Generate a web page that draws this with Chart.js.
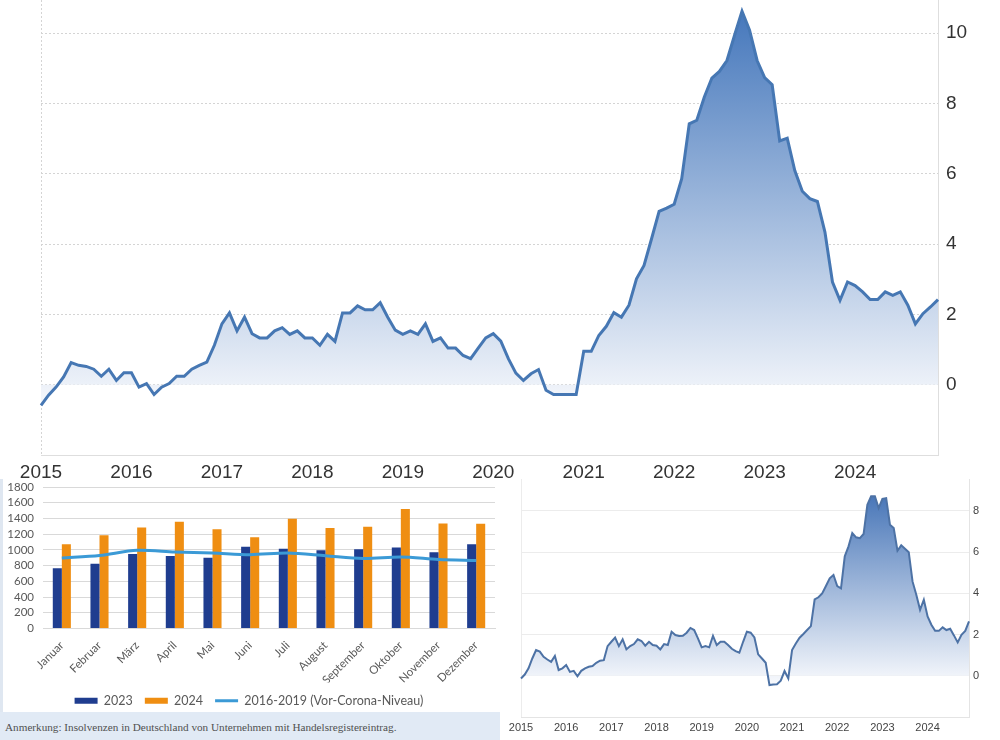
<!DOCTYPE html>
<html>

<head>
  <meta charset="utf-8">
  <title>Inflation und Insolvenzen</title>
  <style>
    body { margin: 0; background: #fff; }
    #wrap { position: relative; width: 1000px; height: 740px; overflow: hidden; }
    #oben { position: absolute; left: 0; top: 0; }
    #balken { position: absolute; left: 0; top: 479px; width: 497px; height: 233px; background: #fff; border-left: 3px solid #dfe7f1; overflow: hidden; }
    #klein { position: absolute; left: 503px; top: 479px; width: 497px; height: 261px; background: #fff; }
    #anmerkung { position: absolute; left: 0; top: 712px; width: 500px; height: 28px; background: #e1eaf5;
      font: 11.2px "Liberation Serif", serif; color: #505050; line-height: 30px; padding-left: 5px; box-sizing: border-box; }
  </style>
</head>

<body>
  <div id="wrap">
    <canvas id="oben" width="1000" height="480"></canvas>
    <div id="balken"><canvas id="cBalken" width="497" height="240"></canvas></div>
    <div id="klein"><canvas id="cKlein" width="497" height="261"></canvas></div>
    <div id="anmerkung">Anmerkung: Insolvenzen in Deutschland von Unternehmen mit Handelsregistereintrag.</div>
  </div>

  <script src="https://cdn.jsdelivr.net/npm/chart.js"></script>
  <script>
    // Jahre und Monate (Jan 2015 bis Dez 2024)
    const jahre = ['2015', '2016', '2017', '2018', '2019', '2020', '2021', '2022', '2023', '2024'];

    // grosses Diagramm oben, Monatswerte in %
    const werteOben = [
      -0.59, -0.30, -0.07, 0.22, 0.63, 0.55, 0.52, 0.44, 0.24, 0.44, 0.12, 0.34,
      0.34, -0.07, 0.03, -0.28, -0.07, 0.03, 0.24, 0.24, 0.44, 0.55, 0.64, 1.12,
      1.73, 2.04, 1.53, 1.92, 1.45, 1.33, 1.33, 1.53, 1.62, 1.43, 1.53, 1.33,
      1.33, 1.12, 1.43, 1.23, 2.04, 2.04, 2.24, 2.13, 2.13, 2.33, 1.92, 1.55,
      1.43, 1.53, 1.43, 1.73, 1.23, 1.33, 1.04, 1.04, 0.83, 0.74, 1.04, 1.33,
      1.45, 1.24, 0.74, 0.33, 0.12, 0.31, 0.43, -0.16, -0.28, -0.28, -0.28, -0.28,
      0.95, 0.95, 1.40, 1.66, 2.05, 1.92, 2.26, 3.01, 3.39, 4.15, 4.93, 5.02,
      5.13, 5.86, 7.42, 7.52, 8.18, 8.72, 8.91, 9.22, 9.93, 10.62, 10.08, 9.22,
      8.73, 8.53, 6.93, 7.01, 6.09, 5.50, 5.29, 5.21, 4.34, 2.92, 2.40, 2.92,
      2.82, 2.64, 2.42, 2.42, 2.64, 2.54, 2.64, 2.26, 1.73, 2.02, 2.21, 2.42
    ];

    // kleines Diagramm unten rechts
    const werteKlein = [
      -0.13, 0.06, 0.36, 0.84, 1.25, 1.17, 0.92, 0.79, 0.68, 0.96, 0.28, 0.36,
      0.52, 0.19, 0.24, -0.02, 0.24, 0.36, 0.44, 0.47, 0.63, 0.73, 0.76, 1.44,
      1.65, 1.85, 1.44, 1.77, 1.28, 1.44, 1.54, 1.77, 1.69, 1.46, 1.65, 1.49,
      1.46, 1.28, 1.54, 1.49, 2.14, 1.98, 1.93, 1.94, 2.09, 2.32, 2.22, 1.82,
      1.38, 1.44, 1.38, 1.94, 1.49, 1.65, 1.65, 1.49, 1.31, 1.20, 1.12, 1.65,
      2.14, 2.09, 1.86, 1.04, 0.84, 0.63, -0.45, -0.42, -0.41, -0.24, 0.23, -0.13,
      1.25, 1.57, 1.85, 2.03, 2.22, 2.41, 3.71, 3.81, 4.00, 4.36, 4.73, 4.89,
      4.35, 4.24, 5.80, 6.28, 6.93, 6.72, 6.68, 6.88, 8.30, 8.71, 8.71, 8.14,
      8.59, 8.62, 7.33, 7.17, 6.07, 6.33, 6.17, 6.00, 4.58, 3.93, 3.20, 3.69,
      2.88, 2.48, 2.18, 2.18, 2.35, 2.22, 2.28, 1.96, 1.62, 1.99, 2.18, 2.64
    ];

    // Insolvenzen pro Monat
    const monatsnamen = ['Januar', 'Februar', 'März', 'April', 'Mai', 'Juni', 'Juli', 'August', 'September', 'Oktober', 'November', 'Dezember'];
    const insolvenzen2023 = [767, 823, 947, 921, 900, 1041, 1016, 994, 1007, 1029, 969, 1071];
    const insolvenzen2024 = [1071, 1187, 1286, 1359, 1264, 1161, 1397, 1277, 1294, 1521, 1337, 1333];
    const vorCorona = [896, 930, 994, 973, 960, 939, 960, 926, 891, 909, 879, 866];

    const monate = [];
    jahre.forEach((j) => {
      for (let m = 1; m <= 12; m++) monate.push(j + '-' + m);
    });

    // vertikaler Farbverlauf unter der Linie
    function verlauf(wertOben, wertUnten, farbeOben, farbeUnten) {
      return (ctx) => {
        const chart = ctx.chart;
        if (!chart.chartArea) return farbeUnten;
        const y = chart.scales.y;
        const g = chart.ctx.createLinearGradient(0, y.getPixelForValue(wertOben), 0, y.getPixelForValue(wertUnten));
        g.addColorStop(0, farbeOben);
        g.addColorStop(1, farbeUnten);
        return g;
      };
    }

    const jahrLabel = (v, i) => (i % 12 === 0 ? monate[i].slice(0, 4) : null);

    // oberes Diagramm
    new Chart(document.getElementById('oben'), {
      type: 'line',
      data: {
        labels: monate,
        datasets: [{
          data: werteOben,
          borderColor: '#4677b3',
          borderWidth: 3,
          pointRadius: 0,
          tension: 0,
          fill: 'origin',
          backgroundColor: verlauf(10.6, -0.6, 'rgb(70,120,188)', 'rgb(246,248,252)')
        }]
      },
      options: {
        responsive: false,
        animation: false,
        layout: { padding: { left: 41, top: 0, right: 0, bottom: 0 } },
        plugins: { legend: { display: false }, tooltip: { enabled: false } },
        scales: {
          x: {
            grid: { color: (c) => (c.index % 12 === 0 ? '#d4d4d4' : 'transparent'), drawTicks: false },
            border: { color: '#dedede', dash: [2, 2] },
            ticks: { autoSkip: false, maxRotation: 0, padding: 6, color: '#333',
              font: { family: 'Liberation Sans', size: 19 }, callback: jahrLabel },
            afterFit: (s) => { s.height = 25; }
          },
          y: {
            position: 'right',
            min: -2,
            max: 10.94,
            grid: { color: '#d4d4d4', drawTicks: false },
            border: { color: '#dedede', dash: [2, 2] },
            ticks: { stepSize: 2, includeBounds: false, padding: 8, color: '#333',
              font: { family: 'Liberation Sans', size: 19 },
              callback: (v) => (v < 0 ? '' : v) },
            afterFit: (s) => { s.width = 62; s.paddingTop = 0; s.paddingBottom = 0; }
          }
        }
      }
    });

    // Balkendiagramm Insolvenzen
    new Chart(document.getElementById('cBalken'), {
      type: 'bar',
      data: {
        labels: monatsnamen,
        datasets: [{
          label: '2023',
          data: insolvenzen2023,
          backgroundColor: '#1f3d8f',
          categoryPercentage: 0.48,
          barPercentage: 1,
          order: 1
        }, {
          label: '2024',
          data: insolvenzen2024,
          backgroundColor: '#ef8e12',
          categoryPercentage: 0.48,
          barPercentage: 1,
          order: 1
        }, {
          type: 'line',
          label: '2016-2019 (Vor-Corona-Niveau)',
          data: vorCorona,
          borderColor: '#3b9ad6',
          backgroundColor: '#3b9ad6',
          borderWidth: 3,
          pointRadius: 0,
          tension: 0.3,
          order: 0
        }]
      },
      options: {
        responsive: false,
        animation: false,
        layout: { padding: { left: 0, top: 8, right: 5, bottom: 2 } },
        plugins: {
          tooltip: { enabled: false },
          legend: {
            position: 'bottom',
            labels: {
              usePointStyle: true,
              pointStyleWidth: 23,
              boxHeight: 6,
              padding: 12,
              color: '#595959',
              font: { family: 'Lato', size: 12.5 },
              generateLabels: (chart) => {
                const items = Chart.defaults.plugins.legend.labels.generateLabels(chart);
                items.sort((a, b) => a.datasetIndex - b.datasetIndex);
                items.forEach((it) => {
                  it.pointStyle = chart.data.datasets[it.datasetIndex].type === 'line' ? 'line' : 'rect';
                });
                return items;
              }
            }
          }
        },
        scales: {
          x: {
            grid: { display: false },
            border: { color: '#d9d9d9' },
            ticks: { minRotation: 45, maxRotation: 45, padding: 2, color: '#595959', font: { family: 'Lato', size: 11.5 } },
            afterFit: (s) => { s.height = 54; }
          },
          y: {
            min: 0,
            max: 1800,
            grid: { color: '#d9d9d9', drawTicks: false },
            border: { display: false },
            ticks: { stepSize: 200, autoSkip: false, padding: 9, color: '#595959', font: { family: 'Lato', size: 11.5 },
              callback: (v) => String(v) },
            afterFit: (s) => { s.width = 40; s.paddingTop = 0; s.paddingBottom = 0; }
          }
        }
      }
    });

    // kleines Diagramm unten rechts
    new Chart(document.getElementById('cKlein'), {
      type: 'line',
      data: {
        labels: monate,
        datasets: [{
          data: werteKlein,
          borderColor: '#4d72a5',
          borderWidth: 2,
          pointRadius: 0,
          tension: 0,
          fill: 'origin',
          backgroundColor: verlauf(8.8, -0.3, 'rgb(72,118,184)', 'rgb(246,248,252)')
        }]
      },
      options: {
        responsive: false,
        animation: false,
        layout: { padding: { left: 18, top: 0, right: 0, bottom: 0 } },
        plugins: { legend: { display: false }, tooltip: { enabled: false } },
        scales: {
          x: {
            grid: { color: (c) => (c.index % 12 === 0 ? '#ececec' : 'transparent'), drawTicks: false },
            border: { color: '#e4e4e4' },
            ticks: { autoSkip: false, maxRotation: 0, padding: 4, color: '#444',
              font: { family: 'Liberation Sans', size: 11 }, callback: jahrLabel },
            afterFit: (s) => { s.height = 23; }
          },
          y: {
            position: 'right',
            min: -2,
            max: 9.55,
            grid: { color: '#ececec', drawTicks: false },
            border: { color: '#e4e4e4' },
            ticks: { stepSize: 2, includeBounds: false, padding: 4, color: '#444',
              font: { family: 'Liberation Sans', size: 11 },
              callback: (v) => (v < 0 ? '' : v) },
            afterFit: (s) => { s.width = 31; s.paddingTop = 0; s.paddingBottom = 0; }
          }
        }
      }
    });
  </script>
</body>
</html>
